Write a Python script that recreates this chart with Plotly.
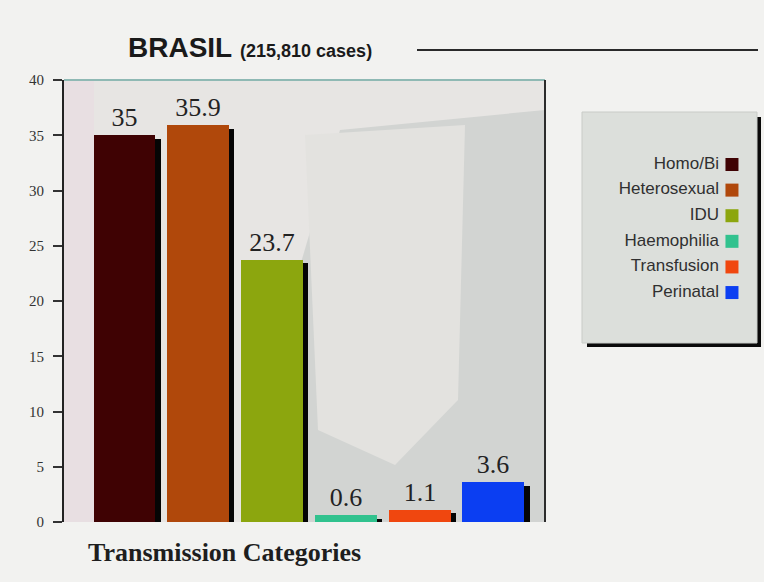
import plotly.graph_objects as go

# ---- data -------------------------------------------------------------
categories = ["Homo/Bi", "Heterosexual", "IDU", "Haemophilia", "Transfusion", "Perinatal"]
percent = [35, 35.9, 23.7, 0.6, 1.1, 3.6]
bar_colors = ["#3f0203", "#b0480b", "#8ca60e", "#31c28e", "#f0470f", "#0b3ef2"]
y_ticks = [0, 5, 10, 15, 20, 25, 30, 35, 40]
title_main = "BRASIL"
title_sub = "(215,810 cases)"
x_title = "Transmission Categories"

# ---- page geometry ----------------------------------------------------
W, H = 764, 582
L, R, T, B = 64, 7, 80, 60
plot_w = W - L - R
plot_h = H - T - B


def px(x):
    """pixel x -> paper fraction"""
    return (x - L) / plot_w


def py(y):
    """pixel y -> paper fraction"""
    return (H - B - y) / plot_h


xs = list(range(len(categories)))
bar_w = 0.84

fig = go.Figure()

# drop shadow behind each bar
fig.add_trace(go.Bar(
    x=xs, y=percent, base=-0.3, width=bar_w, offset=-bar_w / 2 + 0.07,
    marker=dict(color="#050505", line=dict(width=0)),
    hoverinfo="skip", showlegend=False,
))

# main bars with value labels
fig.add_trace(go.Bar(
    x=xs, y=percent, width=bar_w, offset=-bar_w / 2,
    marker=dict(color=bar_colors, line=dict(width=0)),
    text=[f"{v:g}" for v in percent], textposition="outside",
    textfont=dict(family="Liberation Serif", size=26, color="#222222"),
    cliponaxis=False, showlegend=False,
    hovertext=categories,
))

# legend: right-aligned labels followed by colour swatches
fig.add_trace(go.Scatter(
    x=[0.783] * len(categories), y=xs, xaxis="x2", yaxis="y2",
    mode="text", text=categories, textposition="middle left",
    textfont=dict(family="Liberation Sans", size=17, color="#303030"),
    showlegend=False, hoverinfo="skip",
))
fig.add_trace(go.Scatter(
    x=[0.857] * len(categories), y=xs, xaxis="x2", yaxis="y2",
    mode="markers",
    marker=dict(symbol="square", size=13, color=bar_colors, line=dict(width=0)),
    showlegend=False, hoverinfo="skip",
))

shapes = [
    # plot area backdrop
    dict(type="rect", xref="x domain", yref="y domain", x0=0, x1=1, y0=0, y1=1,
         fillcolor="#e7e5e3", line=dict(width=0), layer="below"),
    # grey textured patch on the right
    dict(type="path", xref="paper", yref="paper", layer="below",
         path=f"M {px(340)},{py(130)} L {px(545)},{py(110)} L {px(545)},{py(522)} "
              f"L {px(300)},{py(522)} L {px(290)},{py(300)} Z",
         fillcolor="#d2d4d2", line=dict(width=0)),
    # lighter paper-like sheet
    dict(type="path", xref="paper", yref="paper", layer="below",
         path=f"M {px(305)},{py(135)} L {px(465)},{py(125)} L {px(458)},{py(400)} "
              f"L {px(395)},{py(465)} L {px(318)},{py(430)} Z",
         fillcolor="#e3e2df", line=dict(width=0)),
    # pinkish tint along the left edge
    dict(type="rect", xref="paper", yref="paper", x0=px(64), x1=px(94),
         y0=py(522), y1=py(80), fillcolor="#e8dfe2", line=dict(width=0), layer="below"),
    # frame: teal top edge and dark right edge
    dict(type="line", xref="x domain", yref="y domain", x0=0, x1=1, y0=1, y1=1,
         line=dict(color="#8fb9b4", width=2)),
    dict(type="line", xref="x domain", yref="y domain", x0=1, x1=1, y0=0, y1=1,
         line=dict(color="#2c2c2c", width=2)),
    # legend box shadow and box (kept under the legend entries)
    dict(type="rect", xref="paper", yref="paper", x0=px(587), x1=px(761),
         y0=py(347), y1=py(117), fillcolor="#0a0a0a", line=dict(width=0), layer="below"),
    dict(type="rect", xref="paper", yref="paper", x0=px(582), x1=px(757),
         y0=py(343), y1=py(112), fillcolor="#dcdfdb",
         line=dict(color="#c9ccc8", width=1), layer="below"),
    # rule next to the title
    dict(type="line", xref="paper", yref="paper", x0=px(417), x1=px(758),
         y0=py(50), y1=py(50), line=dict(color="#2a2a2a", width=2)),
]

annotations = [
    dict(xref="paper", yref="paper", x=px(126), y=py(47), xanchor="left", yanchor="middle",
         showarrow=False,
         text=f"<b>{title_main}</b> <span style='font-size:18px'><b>{title_sub}</b></span>",
         font=dict(family="Liberation Sans", size=28, color="#1a1a1a")),
    dict(xref="paper", yref="paper", x=px(86), y=py(552), xanchor="left", yanchor="middle",
         showarrow=False, text=f"<b>{x_title}</b>",
         font=dict(family="Liberation Serif", size=26, color="#1e1e1e")),
]

fig.update_layout(
    width=W, height=H,
    margin=dict(l=L, r=R, t=T, b=B),
    paper_bgcolor="#f2f2f0", plot_bgcolor="rgba(0,0,0,0)",
    barmode="overlay", bargap=0,
    shapes=shapes, annotations=annotations,
    xaxis=dict(domain=[0, px(545)], range=[-0.82, 5.70], showticklabels=False,
               showgrid=False, zeroline=False, showline=False, ticks=""),
    yaxis=dict(range=[0, 40], tickvals=y_ticks, showgrid=False, zeroline=False,
               showline=True, linecolor="#222222", linewidth=2,
               ticks="outside", ticklen=9, tickwidth=1.5, tickcolor="#333333",
               ticklabelstandoff=6,
               tickfont=dict(family="Liberation Serif", size=15, color="#333333")),
    xaxis2=dict(domain=[px(582), px(757)], range=[0, 1], visible=False, anchor="y2"),
    yaxis2=dict(domain=[py(343), py(112)], range=[6.97, -2.05], visible=False, anchor="x2"),
)

fig.write_html("out.html")
